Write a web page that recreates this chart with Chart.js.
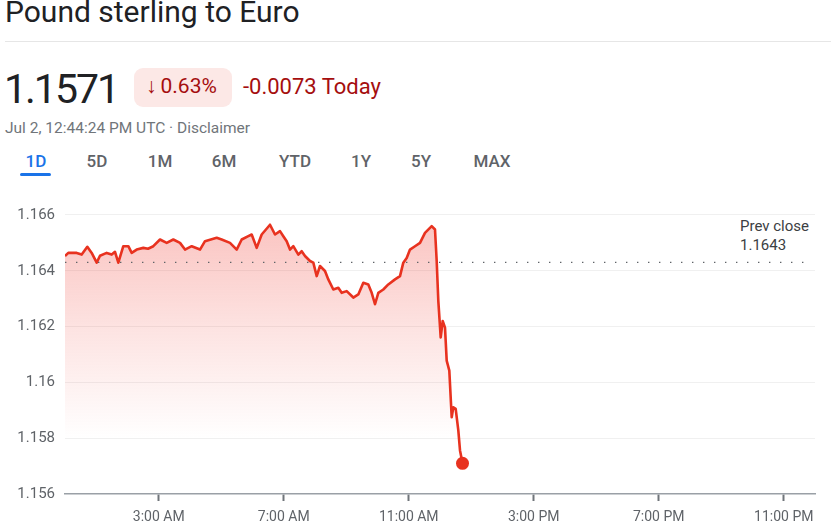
<!DOCTYPE html>
<html>
<head>
<meta charset="utf-8">
<script src="https://cdn.jsdelivr.net/npm/chart.js@4.4.1/dist/chart.umd.min.js"></script>
<style>
  html, body { margin: 0; padding: 0; background: #fff; }
  body { width: 837px; height: 531px; position: relative; overflow: hidden; font-family: Roboto, "Noto Sans", Arial, sans-serif; }
  .abs { position: absolute; white-space: nowrap; line-height: 1; }
  #title { left: 5px; top: -3px; font-size: 30px; color: #202124; }
  #sep { position: absolute; left: 5px; top: 41px; width: 826px; height: 1px; background: #e6e6e6; }
  #price { left: 4px; top: 69px; font-size: 41px; color: #202124; letter-spacing: -2px; }
  #pill { position: absolute; left: 134px; top: 68px; width: 98px; height: 39px; background: #fce8e6; border-radius: 9px; }
  #pct { left: 146px; top: 76px; font-size: 21px; color: #a50e0e; }
  #pct .arr { margin-right: 4px; }
  #chg { left: 243px; top: 76px; font-size: 22px; color: #a50e0e; }
  #date { left: 5px; top: 121px; font-size: 15.5px; color: #70757a; }
  .tab { position: absolute; top: 153px; font-size: 17px; color: #5f6368; font-weight: 500; transform: translateX(-50%); white-space: nowrap; line-height: 1; }
  #tab1d { color: #1a73e8; }
  #uline { position: absolute; left: 20px; top: 173px; width: 31px; height: 3px; background: #1a73e8; border-radius: 2px; }
  #prev { position: absolute; left: 733px; top: 217px; padding-left: 7px; padding-right: 4px; background: #fff; font-size: 15px; line-height: 19px; color: #3c4043; }
  #chart { position: absolute; left: 0; top: 182px; }
</style>
</head>
<body>
<div id="title" class="abs">Pound sterling to Euro</div>
<div id="sep"></div>
<div id="price" class="abs">1.1571</div>
<div id="pill"></div>
<div id="pct" class="abs"><span class="arr">↓</span>0.63%</div>
<div id="chg" class="abs">-0.0073 Today</div>
<div id="date" class="abs">Jul 2, 12:44:24 PM UTC · Disclaimer</div>
<div id="tabs"></div>
<div id="uline"></div>
<canvas id="chart" width="837" height="349"></canvas>
<div id="prev">Prev close<br>1.1643</div>
<script>
// ---- data ----
const hours = [0.00,0.106,0.374,0.534,0.714,0.854,1.014,1.12,1.334,1.494,1.6,1.706,1.866,2.026,2.134,2.294,2.506,2.656,2.826,
  3.04,3.254,3.466,3.68,3.84,4.054,4.32,4.48,4.854,5.014,5.28,5.494,5.654,5.866,5.974,6.134,6.294,6.56,6.72,6.88,6.986,
  7.094,7.2,7.306,7.466,7.574,7.68,7.84,7.946,8.054,8.16,8.32,8.426,8.586,8.746,8.854,9.014,9.226,9.386,9.546,9.706,
  9.814,9.92,10.026,10.186,10.346,10.56,10.72,10.826,10.934,11.04,11.2,11.36,11.52,11.734,11.84,11.894,11.946,12.022,
  12.086,12.16,12.214,12.298,12.374,12.426,12.502,12.586,12.64,12.72];
const rates = [1.16453,1.16464,1.16464,1.16458,1.16486,1.16464,1.16429,1.16454,1.16464,1.16458,1.16468,1.16429,1.16488,1.16488,1.16464,
  1.16476,1.16482,1.16479,1.16488,1.16512,1.16500,1.16512,1.16500,1.16476,1.16488,1.16476,1.16506,1.16518,1.16512,1.16500,
  1.16476,1.16512,1.16524,1.16530,1.16482,1.16530,1.16565,1.16530,1.16542,1.16524,1.16506,1.16476,1.16488,1.16458,1.16470,
  1.16453,1.16435,1.16429,1.16381,1.16417,1.16399,1.16369,1.16333,1.16339,1.16321,1.16327,1.16304,1.16315,1.16357,1.16351,
  1.16321,1.16280,1.16321,1.16333,1.16351,1.16369,1.16381,1.16429,1.16446,1.16476,1.16488,1.16500,1.16536,1.16560,1.16548,
  1.16435,1.16292,1.16161,1.16220,1.16196,1.16078,1.16042,1.15875,1.15911,1.15905,1.15828,1.15756,1.15710];
const prevClose = 1.1643;
const prevCloseSpan = [0, 23.8];
const yTicks = [1.156, 1.158, 1.16, 1.162, 1.164, 1.166];
const yTickLabels = ['1.156', '1.158', '1.16', '1.162', '1.164', '1.166'];
const xTicks = [3, 7, 11, 15, 19, 23];
const xTickLabels = ['3:00 AM', '7:00 AM', '11:00 AM', '3:00 PM', '7:00 PM', '11:00 PM'];
const tabLabels = ['1D', '5D', '1M', '6M', 'YTD', '1Y', '5Y', 'MAX'];
const tabCenters = [36, 97, 160, 224, 295, 361, 421, 492];

// ---- tabs ----
const tabsEl = document.getElementById('tabs');
tabLabels.forEach((t, i) => {
  const d = document.createElement('div');
  d.className = 'tab';
  if (i === 0) d.id = 'tab1d';
  d.style.left = tabCenters[i] + 'px';
  d.textContent = t;
  tabsEl.appendChild(d);
});

// ---- chart ----
const RED = '#e8321f';
const linePts = hours.map((h, i) => ({ x: h, y: rates[i] }));
const prevPts = prevCloseSpan.map(h => ({ x: h, y: prevClose }));

new Chart(document.getElementById('chart'), {
  type: 'line',
  data: {
    datasets: [
      {
        data: prevPts,
        borderColor: '#5f6368',
        borderWidth: 1.4,
        borderDash: [1.4, 9.6],
        pointRadius: 0,
        fill: false,
        order: 0
      },
      {
        data: linePts,
        borderColor: RED,
        borderWidth: 2.6,
        borderJoinStyle: 'round',
        tension: 0,
        fill: 'start',
        backgroundColor: (ctx) => {
          const chart = ctx.chart;
          const area = chart.chartArea;
          if (!area) return 'rgba(234,67,53,0.15)';
          const y = chart.scales.y;
          const g = chart.ctx.createLinearGradient(0, y.getPixelForValue(1.1657), 0, y.getPixelForValue(1.158));
          g.addColorStop(0, 'rgba(240,60,50,0.30)');
          g.addColorStop(0.5, 'rgba(240,60,50,0.14)');
          g.addColorStop(1, 'rgba(240,60,50,0)');
          return g;
        },
        pointRadius: (ctx) => ctx.dataIndex === ctx.dataset.data.length - 1 ? 6.5 : 0,
        pointBackgroundColor: RED,
        pointBorderWidth: 0,
        order: 1
      }
    ]
  },
  options: {
    responsive: false,
    devicePixelRatio: 1,
    animation: false,
    layout: { padding: { left: 0, right: 22, top: 0, bottom: 0 } },
    plugins: { legend: { display: false }, tooltip: { enabled: false } },
    scales: {
      x: {
        type: 'linear',
        min: 0,
        max: 24,
        afterBuildTicks: (s) => { s.ticks = xTicks.map(v => ({ value: v })); },
        afterFit: (s) => { s.height = 37; },
        ticks: {
          callback: (v) => xTickLabels[xTicks.indexOf(v)],
          color: '#5f6368',
          font: { family: 'Roboto', size: 14 },
          padding: 8,
          maxRotation: 0,
          autoSkip: false
        },
        grid: {
          drawOnChartArea: false,
          drawTicks: true,
          tickLength: 7,
          tickColor: '#70757a',
          tickWidth: 2
        },
        border: { display: true, color: '#9aa0a6', width: 1.5 }
      },
      y: {
        type: 'linear',
        min: 1.156,
        max: 1.1665,
        afterBuildTicks: (s) => { s.ticks = yTicks.map(v => ({ value: v })); },
        afterFit: (s) => { s.width = 65; },
        ticks: {
          callback: (v) => yTickLabels[yTicks.indexOf(v)],
          color: '#5f6368',
          font: { family: 'Roboto', size: 15 },
          padding: 10
        },
        grid: {
          drawTicks: false,
          color: (ctx) => (ctx.tick && ctx.tick.value === 1.156) ? 'rgba(0,0,0,0)' : '#f0f0f0',
          lineWidth: 1
        },
        border: { display: false }
      }
    }
  }
});
</script>
</body>
</html>
